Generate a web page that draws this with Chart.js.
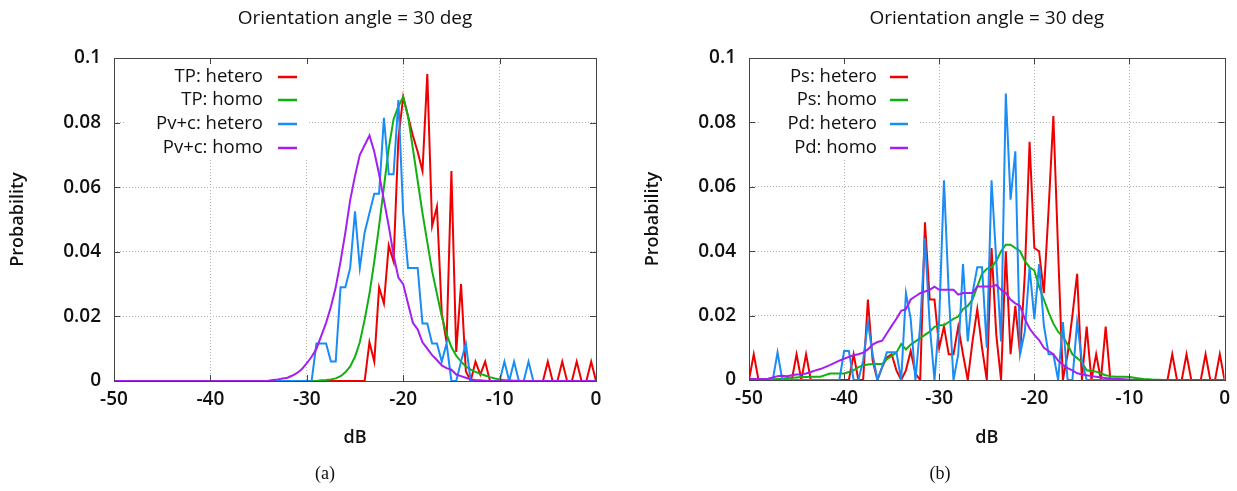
<!DOCTYPE html>
<html>
<head>
<meta charset="utf-8">
<script src="https://cdn.jsdelivr.net/npm/chart.js@4/dist/chart.umd.min.js"></script>
<style>
  html, body { margin: 0; padding: 0; background: #fff; }
  #wrap { position: relative; width: 1237px; height: 491px; }
  canvas { position: absolute; top: 0; }
</style>
</head>
<body>
<div id="wrap">
  <canvas id="chartA" width="618" height="491" style="left:0"></canvas>
  <canvas id="chartB" width="619" height="491" style="left:618px"></canvas>
</div>
<script>
// dB bins, -50 .. 0 step 0.5
const dB = [
  -50, -49.5, -49, -48.5, -48, -47.5, -47, -46.5, -46, -45.5,
  -45, -44.5, -44, -43.5, -43, -42.5, -42, -41.5, -41, -40.5,
  -40, -39.5, -39, -38.5, -38, -37.5, -37, -36.5, -36, -35.5,
  -35, -34.5, -34, -33.5, -33, -32.5, -32, -31.5, -31, -30.5,
  -30, -29.5, -29, -28.5, -28, -27.5, -27, -26.5, -26, -25.5,
  -25, -24.5, -24, -23.5, -23, -22.5, -22, -21.5, -21, -20.5,
  -20, -19.5, -19, -18.5, -18, -17.5, -17, -16.5, -16, -15.5,
  -15, -14.5, -14, -13.5, -13, -12.5, -12, -11.5, -11, -10.5,
  -10, -9.5, -9, -8.5, -8, -7.5, -7, -6.5, -6, -5.5,
  -5, -4.5, -4, -3.5, -3, -2.5, -2, -1.5, -1, -0.5,
  0
];
const xTicks = [-50, -40, -30, -20, -10, 0];
const yTicks = [0, 0.02, 0.04, 0.06, 0.08, 0.1];

// (a) TP / Pv+c
const tpHetero = [
  0, 0, 0, 0, 0, 0, 0, 0, 0, 0,
  0, 0, 0, 0, 0, 0, 0, 0, 0, 0,
  0, 0, 0, 0, 0, 0, 0, 0, 0, 0,
  0, 0, 0, 0, 0, 0, 0, 0, 0, 0,
  0, 0, 0, 0, 0, 0, 0, 0, 0, 0,
  0, 0, 0, 0.012, 0.006, 0.029, 0.024, 0.042, 0.037, 0.075,
  0.088, 0.082, 0.076, 0.071, 0.065, 0.095, 0.048, 0.054, 0.021, 0.012,
  0.065, 0.009, 0.030, 0.003, 0, 0.006, 0.002, 0.006, 0, 0,
  0, 0, 0, 0, 0, 0, 0, 0, 0, 0,
  0.006, 0, 0, 0.006, 0, 0, 0.006, 0, 0, 0.006,
  0
];
const tpHomo = [
  0, 0, 0, 0, 0, 0, 0, 0, 0, 0,
  0, 0, 0, 0, 0, 0, 0, 0, 0, 0,
  0, 0, 0, 0, 0, 0, 0, 0, 0, 0,
  0, 0, 0, 0, 0, 0, 0, 0, 0, 0,
  0, 0, 0, 0.0002, 0.0003, 0.0005, 0.0008, 0.0015, 0.0027, 0.0045,
  0.0075, 0.012, 0.019, 0.027, 0.037, 0.048, 0.060, 0.072, 0.081, 0.085,
  0.088, 0.082, 0.072, 0.062, 0.052, 0.043, 0.034, 0.027, 0.020, 0.0145,
  0.0105, 0.0078, 0.006, 0.0045, 0.0035, 0.0028, 0.0022, 0.0017, 0.0012, 0.0008,
  0.0005, 0.0003, 0.0002, 0.0001, 0.0001, 0, 0, 0, 0, 0,
  0, 0, 0, 0, 0, 0, 0, 0, 0, 0,
  0
];
const pvcHetero = [
  0, 0, 0, 0, 0, 0, 0, 0, 0, 0,
  0, 0, 0, 0, 0, 0, 0, 0, 0, 0,
  0, 0, 0, 0, 0, 0, 0, 0, 0, 0,
  0, 0, 0, 0, 0, 0, 0, 0, 0, 0,
  0, 0, 0.0116, 0.0116, 0.0116, 0.006, 0.006, 0.029, 0.029, 0.035,
  0.0525, 0.035, 0.046, 0.052, 0.058, 0.058, 0.0815, 0.064, 0.064, 0.087,
  0.052, 0.035, 0.035, 0.035, 0.0178, 0.0178, 0.0116, 0.0116, 0.006, 0.0116,
  0, 0, 0.006, 0.0116, 0, 0, 0, 0, 0, 0,
  0, 0.006, 0, 0.006, 0, 0, 0.006, 0, 0, 0,
  0, 0, 0, 0, 0, 0, 0, 0, 0, 0,
  0
];
const pvcHomo = [
  0, 0, 0, 0, 0, 0, 0, 0, 0, 0,
  0, 0, 0, 0, 0, 0, 0, 0, 0, 0,
  0, 0, 0, 0, 0, 0, 0, 0, 0, 0,
  0, 0, 0.0001, 0.0003, 0.0005, 0.0008, 0.001, 0.0017, 0.0025, 0.0037,
  0.0055, 0.0075, 0.010, 0.014, 0.018, 0.023, 0.029, 0.037, 0.046, 0.056,
  0.0635, 0.070, 0.073, 0.076, 0.071, 0.064, 0.056, 0.048, 0.039, 0.032,
  0.030, 0.024, 0.018, 0.016, 0.012, 0.010, 0.008, 0.0065, 0.0048, 0.004,
  0.0035, 0.002, 0.0015, 0.001, 0.0005, 0.0003, 0.0002, 0.0001, 0, 0,
  0, 0, 0, 0, 0, 0, 0, 0, 0, 0,
  0, 0, 0, 0, 0, 0, 0, 0, 0, 0,
  0
];

// (b) Ps / Pd
const psHetero = [
  0, 0.008, 0, 0, 0, 0, 0, 0, 0, 0,
  0.008, 0, 0.008, 0, 0, 0, 0, 0, 0, 0,
  0, 0, 0.008, 0, 0, 0.025, 0.006, 0, 0.004, 0.007,
  0.008, 0.003, 0, 0.003, 0.009, 0.002, 0, 0.049, 0.025, 0.025,
  0.010, 0.0166, 0.008, 0.008, 0.0166, 0.008, 0, 0.012, 0.022, 0.010,
  0, 0.041, 0.014, 0, 0.040, 0.008, 0.023, 0.008, 0.033, 0.074,
  0.041, 0.040, 0.027, 0.053, 0.082, 0.040, 0, 0.008, 0.020, 0.033,
  0, 0.0166, 0, 0.008, 0, 0.0166, 0, 0, 0, 0,
  0, 0, 0, 0, 0, 0, 0, 0, 0, 0.008,
  0, 0, 0.008, 0, 0, 0, 0.008, 0, 0, 0.008,
  0
];
const psHomo = [
  0, 0, 0.0001, 0.0001, 0.0002, 0.0002, 0.0003, 0.0004, 0.0006, 0.0007,
  0.0008, 0.0009, 0.0009, 0.001, 0.001, 0.001, 0.0015, 0.002, 0.002, 0.002,
  0.002, 0.0025, 0.003, 0.004, 0.0045, 0.0048, 0.005, 0.005, 0.005, 0.0065,
  0.0075, 0.0085, 0.0112, 0.0095, 0.011, 0.012, 0.013, 0.014, 0.015, 0.0165,
  0.017, 0.017, 0.018, 0.019, 0.0197, 0.022, 0.023, 0.025, 0.029, 0.033,
  0.0345, 0.035, 0.037, 0.040, 0.042, 0.042, 0.041, 0.040, 0.037, 0.035,
  0.034, 0.029, 0.025, 0.021, 0.0175, 0.015, 0.0135, 0.011, 0.008, 0.0068,
  0.0055, 0.003, 0.0028, 0.0026, 0.002, 0.0015, 0.0012, 0.001, 0.001, 0.001,
  0.0009, 0.0007, 0.0005, 0.0003, 0.0002, 0.0001, 0.0001, 0, 0, 0,
  0, 0, 0, 0, 0, 0, 0, 0, 0, 0,
  0
];
const pdHetero = [
  0, 0, 0, 0, 0, 0, 0.0086, 0, 0, 0,
  0, 0, 0, 0, 0, 0, 0, 0, 0, 0,
  0.009, 0.009, 0, 0, 0.006, 0.018, 0.008, 0, 0.004, 0.0086,
  0.0086, 0.0086, 0, 0.027, 0.019, 0, 0.017, 0.044, 0.017, 0,
  0.019, 0.062, 0.027, 0, 0.008, 0.036, 0.012, 0.027, 0.035, 0.035,
  0.010, 0.062, 0.037, 0.012, 0.089, 0.056, 0.071, 0.008, 0.015, 0.035,
  0.019, 0.036, 0.017, 0.008, 0.008, 0, 0.018, 0, 0, 0.018,
  0.006, 0, 0, 0, 0, 0, 0, 0, 0, 0,
  0, 0, 0, 0, 0, 0, 0, 0, 0, 0,
  0, 0, 0, 0, 0, 0, 0, 0, 0, 0,
  0
];
const pdHomo = [
  0.0003, 0.0003, 0.0003, 0.0003, 0.0004, 0.0008, 0.0012, 0.0013, 0.0012, 0.0015,
  0.0017, 0.0018, 0.002, 0.0025, 0.003, 0.0034, 0.004, 0.0046, 0.0053, 0.006,
  0.0066, 0.0072, 0.0077, 0.008, 0.0085, 0.0095, 0.011, 0.0118, 0.0122, 0.0145,
  0.0168, 0.019, 0.0215, 0.022, 0.025, 0.026, 0.027, 0.0275, 0.028, 0.029,
  0.028, 0.028, 0.028, 0.028, 0.0265, 0.027, 0.027, 0.027, 0.029, 0.029,
  0.029, 0.029, 0.0295, 0.028, 0.027, 0.025, 0.0238, 0.023, 0.019, 0.016,
  0.014, 0.0124, 0.010, 0.009, 0.008, 0.006, 0.0047, 0.0037, 0.003, 0.0021,
  0.0018, 0.0015, 0.0012, 0.001, 0.0008, 0.0006, 0.0005, 0.0004, 0.0003, 0.0002,
  0.0001, 0, 0, 0, 0, 0, 0, 0, 0, 0,
  0, 0, 0, 0, 0, 0, 0, 0, 0, 0,
  0
];

const RED = '#ee0000', GREEN = '#11b011', BLUE = '#1a8cf5', PURPLE = '#a41ff0';
const FONT = "'Open Sans', 'DejaVu Sans', sans-serif";

// titles, legend, frame, captions
const decor = {
  id: 'decor',
  beforeDatasetsDraw(chart, args, o) {
    const ctx = chart.ctx;
    ctx.save();
    ctx.fillStyle = '#fff';
    ctx.fillRect(o.box[0], o.box[1], o.box[2] - o.box[0], o.box[3] - o.box[1]);
    ctx.font = '500 18.5px ' + FONT;
    ctx.textAlign = 'right';
    ctx.textBaseline = 'middle';
    o.entries.forEach((e, i) => {
      const y = o.rows[i];
      ctx.fillStyle = '#111';
      ctx.fillText(e.label, o.textRight, y);
      ctx.strokeStyle = e.color;
      ctx.lineWidth = 2.5;
      ctx.beginPath();
      ctx.moveTo(o.sample[0], y);
      ctx.lineTo(o.sample[1], y);
      ctx.stroke();
    });
    ctx.restore();
  },
  afterDraw(chart, args, o) {
    const ctx = chart.ctx;
    const a = chart.chartArea;
    const xs = chart.scales.x, ys = chart.scales.y;
    ctx.save();
    ctx.strokeStyle = '#444';
    ctx.lineWidth = 1;
    ctx.strokeRect(Math.round(a.left) + 0.5, Math.round(a.top) + 0.5,
      Math.round(a.right - a.left), Math.round(a.bottom - a.top));
    ctx.beginPath();
    xTicks.forEach(v => {
      const x = Math.round(xs.getPixelForValue(v)) + 0.5;
      ctx.moveTo(x, a.bottom); ctx.lineTo(x, a.bottom - 6);
      ctx.moveTo(x, a.top); ctx.lineTo(x, a.top + 6);
    });
    yTicks.forEach(v => {
      const y = Math.round(ys.getPixelForValue(v)) + 0.5;
      ctx.moveTo(a.left, y); ctx.lineTo(a.left + 6, y);
      ctx.moveTo(a.right, y); ctx.lineTo(a.right - 6, y);
    });
    ctx.stroke();

    const cx = (a.left + a.right) / 2;
    ctx.fillStyle = '#111';
    ctx.textAlign = 'center';
    ctx.textBaseline = 'middle';
    ctx.font = '500 19px ' + FONT;
    ctx.fillText(o.title, cx, 19);
    ctx.font = '600 18px ' + FONT;
    ctx.fillText('dB', cx, 438);
    ctx.save();
    ctx.translate(o.yLabelX, (a.top + a.bottom) / 2);
    ctx.rotate(-Math.PI / 2);
    ctx.fillText('Probability', 0, 0);
    ctx.restore();
    ctx.font = "400 18px 'Liberation Serif', 'DejaVu Serif', serif";
    ctx.fillText(o.caption, o.captionX, 474);
    ctx.restore();
  }
};

function makeChart(id, series, d) {
  const datasets = series.map((s, i) => ({
    label: s.label,
    data: dB.map((x, k) => ({ x: x, y: s.values[k] })),
    borderColor: s.color,
    borderWidth: 2,
    pointRadius: 0,
    tension: 0,
    fill: false,
    order: series.length - i
  }));
  const gridColor = c => (c.tick.value === c.scale.min || c.tick.value === c.scale.max) ? 'rgba(0,0,0,0)' : '#b4b4b4';
  return new Chart(document.getElementById(id), {
    type: 'line',
    data: { datasets },
    options: {
      responsive: false,
      animation: false,
      devicePixelRatio: 1,
      layout: { padding: { left: 0, right: d.padRight, top: 58, bottom: 0 } },
      plugins: {
        legend: { display: false },
        tooltip: { enabled: false },
        decor: {
          title: 'Orientation angle = 30 deg',
          caption: d.caption,
          captionX: d.captionX,
          yLabelX: d.yLabelX,
          box: d.box,
          textRight: d.textRight,
          sample: d.sample,
          rows: [77, 100, 124, 148],
          entries: series.map(s => ({ label: s.label, color: s.color }))
        }
      },
      scales: {
        x: {
          type: 'linear', min: -50, max: 0,
          afterBuildTicks: s => { s.ticks = xTicks.map(v => ({ value: v })); },
          afterFit: s => { s.height = 491 - d.bottom; },
          ticks: { padding: 7, color: '#111', font: { family: FONT, size: 19, weight: '600' }, callback: v => String(v) },
          grid: { drawTicks: false, color: gridColor, lineWidth: 1 },
          border: { display: false, dash: [1, 2] }
        },
        y: {
          type: 'linear', min: 0, max: 0.1,
          afterBuildTicks: s => { s.ticks = yTicks.map(v => ({ value: v })); },
          afterFit: s => { s.width = d.left; },
          ticks: { padding: 13, color: '#111', font: { family: FONT, size: 19, weight: '600' }, callback: v => String(+v.toFixed(2)) },
          grid: { drawTicks: false, color: gridColor, lineWidth: 1 },
          border: { display: false, dash: [1, 2] }
        }
      }
    },
    plugins: [decor]
  });
}

makeChart('chartA', [
  { label: 'TP: hetero', values: tpHetero, color: RED },
  { label: 'TP: homo', values: tpHomo, color: GREEN },
  { label: 'Pv+c: hetero', values: pvcHetero, color: BLUE },
  { label: 'Pv+c: homo', values: pvcHomo, color: PURPLE }
], { left: 114, padRight: 618 - 596, bottom: 381, caption: '(a)', captionX: 325, yLabelX: 18,
     box: [125, 59, 309, 160], textRight: 263, sample: [278, 297] });

makeChart('chartB', [
  { label: 'Ps: hetero', values: psHetero, color: RED },
  { label: 'Ps: homo', values: psHomo, color: GREEN },
  { label: 'Pd: hetero', values: pdHetero, color: BLUE },
  { label: 'Pd: homo', values: pdHomo, color: PURPLE }
], { left: 131, padRight: 619 - 613, bottom: 380, caption: '(b)', captionX: 322, yLabelX: 35,
     box: [142, 59, 300, 160], textRight: 259, sample: [272, 290] });
</script>
</body>
</html>
